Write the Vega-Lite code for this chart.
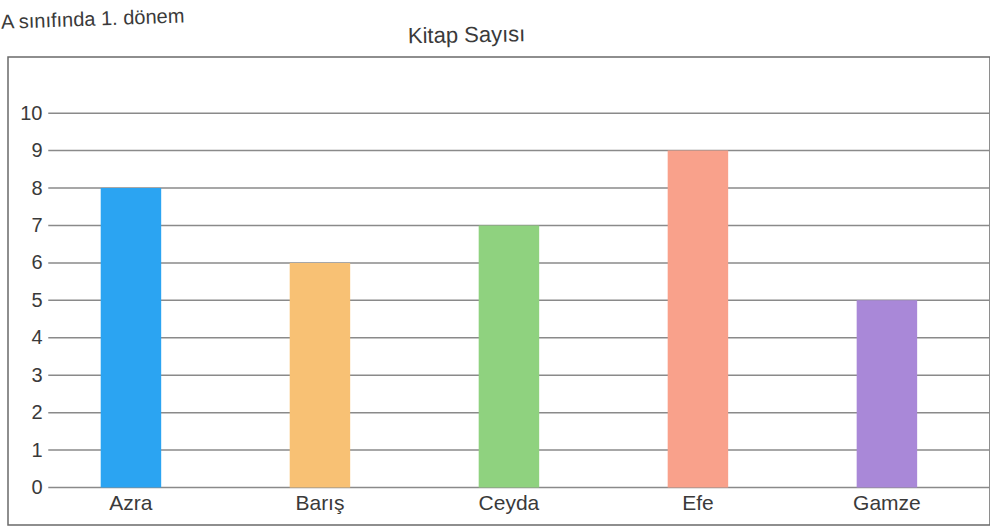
{
  "$schema": "https://vega.github.io/schema/vega-lite/v6.json",
  "width": 982,
  "height": 468,
  "autosize": {"type": "none"},
  "padding": {"left": 8, "top": 57, "right": 0, "bottom": 6},
  "config": {"view": {"stroke": "#6a6a6a", "strokeWidth": 1.5}, "font": "Liberation Sans"},
  "datasets": {
    "grid": [{"v": 0}, {"v": 1}, {"v": 2}, {"v": 3}, {"v": 4}, {"v": 5}, {"v": 6}, {"v": 7}, {"v": 8}, {"v": 9}, {"v": 10}],
    "books": [
      {"ogrenci": "Azra", "kitap": 8},
      {"ogrenci": "Barış", "kitap": 6},
      {"ogrenci": "Ceyda", "kitap": 7},
      {"ogrenci": "Efe", "kitap": 9},
      {"ogrenci": "Gamze", "kitap": 5}
    ],
    "texts": [
      {"metin": "A sınıfında 1. dönem", "xp": 0, "yp": 12.42, "tur": "ust"},
      {"metin": "Kitap Sayısı", "xp": 0.467, "yp": 12.08, "tur": "baslik"}
    ]
  },
  "layer": [
    {
      "data": {"name": "grid"},
      "mark": {"type": "rule", "color": "#8a8a8a", "strokeWidth": 1.5},
      "encoding": {
        "y": {"field": "v", "type": "quantitative", "scale": {"domain": [-1, 11.5], "nice": false, "zero": false},
              "axis": {"values": [0,1,2,3,4,5,6,7,8,9,10], "title": null, "grid": false, "domain": false, "ticks": false, "offset": -36, "labelPadding": 2, "labelFontSize": 20, "labelColor": "#3a3a3a", "labelFont": "Liberation Sans"}},
        "x": {"datum": 0.041, "type": "quantitative", "scale": {"domain": [0, 1]}, "axis": null},
        "x2": {"datum": 1}
      }
    },
    {
      "data": {"name": "texts"},
      "transform": [{"filter": "datum.tur == 'ust'"}],
      "mark": {"type": "text", "align": "left", "baseline": "middle", "fontSize": 20, "color": "#3a3a3a", "angle": -2, "dx": -7},
      "encoding": {
        "text": {"field": "metin"},
        "x": {"field": "xp", "type": "quantitative", "scale": {"domain": [0, 1]}, "axis": null},
        "y": {"field": "yp", "type": "quantitative", "scale": {"domain": [-1, 11.5], "nice": false, "zero": false}}
      }
    },
    {
      "data": {"name": "texts"},
      "transform": [{"filter": "datum.tur == 'baslik'"}],
      "mark": {"type": "text", "align": "center", "baseline": "middle", "fontSize": 22, "color": "#3a3a3a", "angle": -1},
      "encoding": {
        "text": {"field": "metin"},
        "x": {"field": "xp", "type": "quantitative", "scale": {"domain": [0, 1]}, "axis": null},
        "y": {"field": "yp", "type": "quantitative", "scale": {"domain": [-1, 11.5], "nice": false, "zero": false}}
      }
    },
    {
      "data": {"name": "books"},
      "mark": {"type": "bar"},
      "encoding": {
        "x": {"field": "ogrenci", "type": "nominal", "sort": null,
              "scale": {"paddingInner": 0.68, "paddingOuter": 0.438, "align": 0.56},
              "axis": {"title": null, "domain": false, "ticks": false, "labelAngle": 0, "offset": -37, "labelPadding": 4, "labelFontSize": 21, "labelColor": "#3a3a3a", "labelFont": "Liberation Sans"}},
        "y": {"field": "kitap", "type": "quantitative", "scale": {"domain": [-1, 11.5], "nice": false, "zero": false}},
        "y2": {"datum": 0},
        "color": {"field": "ogrenci", "type": "nominal", "legend": null,
                  "scale": {"domain": ["Azra", "Barış", "Ceyda", "Efe", "Gamze"], "range": ["#2ba4f2", "#f8c174", "#8fd27f", "#f9a18b", "#a988d8"]}}
      }
    }
  ],
  "resolve": {"scale": {"x": "independent"}, "axis": {"x": "independent"}}
}
